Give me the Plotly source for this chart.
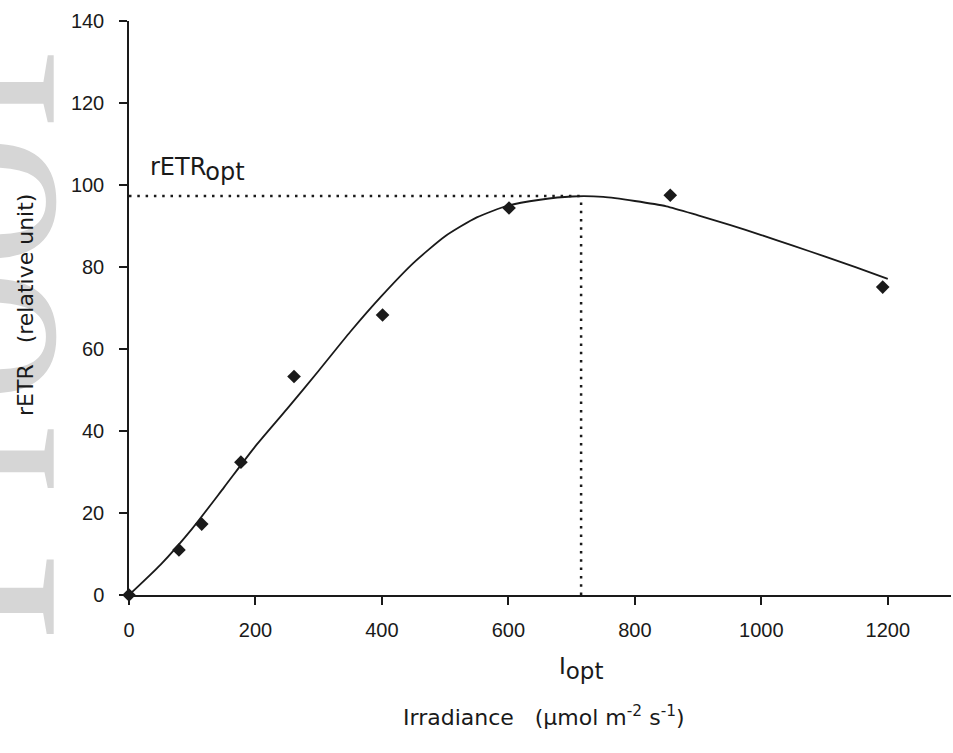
import plotly.graph_objects as go

# Measured data points (irradiance, rETR)
irradiance = [0, 79, 115, 177, 261, 401, 601, 856, 1192]
retr = [0, 11.0, 17.3, 32.4, 53.3, 68.3, 94.4, 97.5, 75.1]

# Fitted curve
curve_x = [0, 50, 100, 150, 200, 250, 300, 350, 400, 450, 500, 550, 600, 650, 700,
           750, 800, 850, 900, 950, 1000, 1050, 1100, 1150, 1200]
curve_y = [0, 7.4, 16.2, 26.2, 36.3, 45.4, 54.7, 64.2, 73.0, 81.0, 87.5, 92.1, 95.0,
           96.4, 97.2, 97.1, 96.1, 94.8, 92.6, 90.3, 87.8, 85.2, 82.6, 79.9, 77.1]

# Optimum
i_opt = 715
retr_opt = 97.3

x_ticks = [0, 200, 400, 600, 800, 1000, 1200]
y_ticks = [0, 20, 40, 60, 80, 100, 120, 140]

BLACK = "#1a1a1a"
TICKFONT = dict(family="Liberation Sans, Arial, sans-serif", size=20, color=BLACK)
TITLEFONT = dict(family="DejaVu Sans, sans-serif", size=22, color=BLACK)

fig = go.Figure()

# watermark
fig.add_annotation(text="Proof", xref="paper", yref="paper", x=-0.203, y=0.44,
                   xanchor="center", yanchor="middle", textangle=-90, showarrow=False,
                   font=dict(family="Liberation Serif, serif", size=270, color="#d6d6d6"))

fig.add_trace(go.Scatter(x=[0, i_opt], y=[retr_opt, retr_opt], mode="lines",
                         line=dict(color=BLACK, width=2.5, dash="2.5px,5.8px"),
                         hoverinfo="skip", showlegend=False))
fig.add_trace(go.Scatter(x=[i_opt, i_opt], y=[0, retr_opt], mode="lines",
                         line=dict(color=BLACK, width=2.5, dash="2.5px,5.8px"),
                         hoverinfo="skip", showlegend=False))
fig.add_trace(go.Scatter(x=curve_x, y=curve_y, mode="lines",
                         line=dict(color=BLACK, width=1.8, shape="spline", smoothing=0.6),
                         showlegend=False))
fig.add_trace(go.Scatter(x=irradiance, y=retr, mode="markers",
                         marker=dict(symbol="diamond", size=10.5, color=BLACK),
                         cliponaxis=False, showlegend=False))

fig.update_xaxes(range=[0, 1300], tickvals=x_ticks, showline=True, linecolor=BLACK,
                 linewidth=1.5, ticks="outside", ticklen=8, tickwidth=1.5, tickcolor=BLACK,
                 showgrid=False, zeroline=False, tickfont=TICKFONT, ticklabelstandoff=8)
fig.update_yaxes(range=[0, 140], tickvals=y_ticks, showline=True, linecolor=BLACK,
                 linewidth=1.5, ticks="outside", ticklen=8, tickwidth=1.5, tickcolor=BLACK,
                 showgrid=False, zeroline=False, tickfont=TICKFONT, ticklabelstandoff=11)

fig.add_annotation(text="rETR<sub><span style='font-size:24px'>opt</span></sub>",
                   xref="paper", yref="paper", x=(148 - 129) / 822, y=(574 - (188 - 21)) / 574,
                   xanchor="left", yanchor="bottom", showarrow=False,
                   font=dict(family="DejaVu Sans, sans-serif", size=24, color=BLACK))
fig.add_annotation(text="I<sub><span style='font-size:23px'>opt</span></sub>",
                   xref="x", yref="paper", x=i_opt, y=(574 - (651 - 21)) / 574,
                   xanchor="center", yanchor="top", showarrow=False,
                   font=dict(family="DejaVu Sans, sans-serif", size=23, color=BLACK))
fig.add_annotation(text="Irradiance   (μmol m<sup>-2</sup> s<sup>-1</sup>)",
                   xref="paper", yref="paper", x=(544 - 129) / 822, y=(574 - (716 - 21)) / 574,
                   xanchor="center", yanchor="middle", showarrow=False, font=TITLEFONT)
fig.add_annotation(text="rETR   (relative unit)", textangle=-90,
                   xref="paper", yref="paper", x=(25 - 129) / 822, y=(574 - (305 - 21)) / 574,
                   xanchor="center", yanchor="middle", showarrow=False, font=TITLEFONT)

fig.update_layout(width=953, height=753, margin=dict(l=129, r=2, t=21, b=158),
                  plot_bgcolor="white", paper_bgcolor="white")

fig.write_html("out.html")
